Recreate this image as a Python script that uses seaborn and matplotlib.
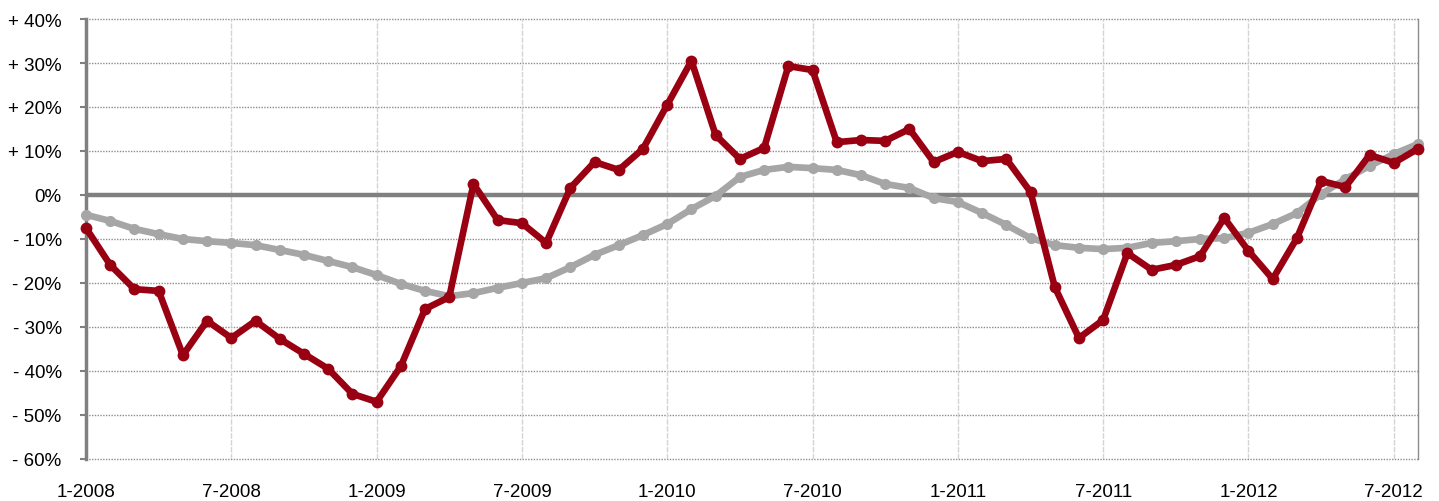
import seaborn as sns
import matplotlib.pyplot as plt
import pandas as pd

# monthly values, Jan 2008 - Aug 2012 (percent)
months = pd.date_range("2008-01-01", "2012-08-01", freq="MS")
red_vals = [-7.5, -15.9, -21.4, -21.8, -36.4, -28.6, -32.5, -28.6, -32.7, -36.1,
            -39.5, -45.2, -47.0, -38.9, -25.9, -23.2, 2.5, -5.7, -6.4, -10.9,
            1.6, 7.5, 5.7, 10.5, 20.5, 30.5, 13.6, 8.2, 10.7, 29.3,
            28.4, 12.0, 12.5, 12.3, 15.0, 7.5, 9.8, 7.7, 8.2, 0.7,
            -20.9, -32.5, -28.4, -13.2, -17.0, -15.9, -13.9, -5.2, -12.7, -19.1,
            -9.8, 3.2, 1.8, 9.1, 7.3, 10.5]
grey_vals = [-4.5, -5.9, -7.7, -8.9, -10.0, -10.5, -10.9, -11.4, -12.5, -13.6,
             -15.0, -16.4, -18.2, -20.2, -21.8, -23.0, -22.3, -21.1, -20.0, -18.9,
             -16.4, -13.6, -11.4, -9.1, -6.6, -3.2, -0.2, 4.1, 5.7, 6.4,
             6.1, 5.7, 4.5, 2.5, 1.6, -0.7, -1.6, -4.1, -6.8, -9.8,
             -11.4, -12.0, -12.3, -12.0, -10.9, -10.5, -10.0, -9.8, -8.6, -6.6,
             -4.1, 0.2, 3.6, 6.6, 9.3, 11.6]
y_ticks = [40, 30, 20, 10, 0, -10, -20, -30, -40, -50, -60]
y_labels = ["+ 40%", "+ 30%", "+ 20%", "+ 10%", "0%", "- 10%", "- 20%",
            "- 30%", "- 40%", "- 50%", "- 60%"]
x_ticks = list(range(0, 56, 6))
x_labels = ["1-2008", "7-2008", "1-2009", "7-2009", "1-2010", "7-2010",
            "1-2011", "7-2011", "1-2012", "7-2012"]

df = pd.DataFrame({"idx": range(len(months)), "red": red_vals, "grey": grey_vals})

sns.set_style("white")
plt.rcParams['font.family'] = ['Liberation Sans', 'DejaVu Sans']

fig = plt.figure(figsize=(14.39, 5.02), dpi=100)
ax = fig.add_axes([86/1439, 42/502, (1418-86)/1439, 440/502])

# grid
for yt in y_ticks:
    ax.axhline(yt, color="#8c8c8c", lw=1.0, ls=(0, (1, 1)), zorder=1, clip_on=False)
for xt in x_ticks:
    ax.axvline(xt, color="#d4d4d4", lw=1.0, ls=(0, (4, 1)), zorder=1)
ax.axhline(0, color="#808080", lw=3.2, zorder=2)

sns.lineplot(data=df, x="idx", y="grey", color="#a6a6a6", lw=4.8, marker="o",
             markersize=8, markeredgewidth=0, ax=ax, zorder=3, clip_on=False)
sns.lineplot(data=df, x="idx", y="red", color="#990012", lw=4.8, marker="o",
             markersize=8.5, markeredgewidth=0, ax=ax, zorder=4, clip_on=False)

ax.set_xlim(0, 55)
ax.set_ylim(-60, 40)
ax.set_yticks(y_ticks)
ax.set_yticklabels(y_labels, fontsize=13.5, color="black")
ax.set_xticks(x_ticks)
ax.set_xticklabels(x_labels, fontsize=13.5, color="black")
ax.set_xlabel("")
ax.set_ylabel("")
ax.tick_params(axis="y", left=True, length=4.5, width=1.5, color="#808080", pad=13)
ax.tick_params(axis="x", bottom=False, length=0, pad=17)

for s in ["top", "bottom"]:
    ax.spines[s].set_visible(False)
ax.spines["left"].set_color("#808080")
ax.spines["left"].set_linewidth(2.5)
ax.spines["right"].set_color("#8c8c8c")
ax.spines["right"].set_linewidth(1.0)
ax.spines["right"].set_linestyle((0, (1, 1)))

fig.savefig("out.png", dpi=100)
